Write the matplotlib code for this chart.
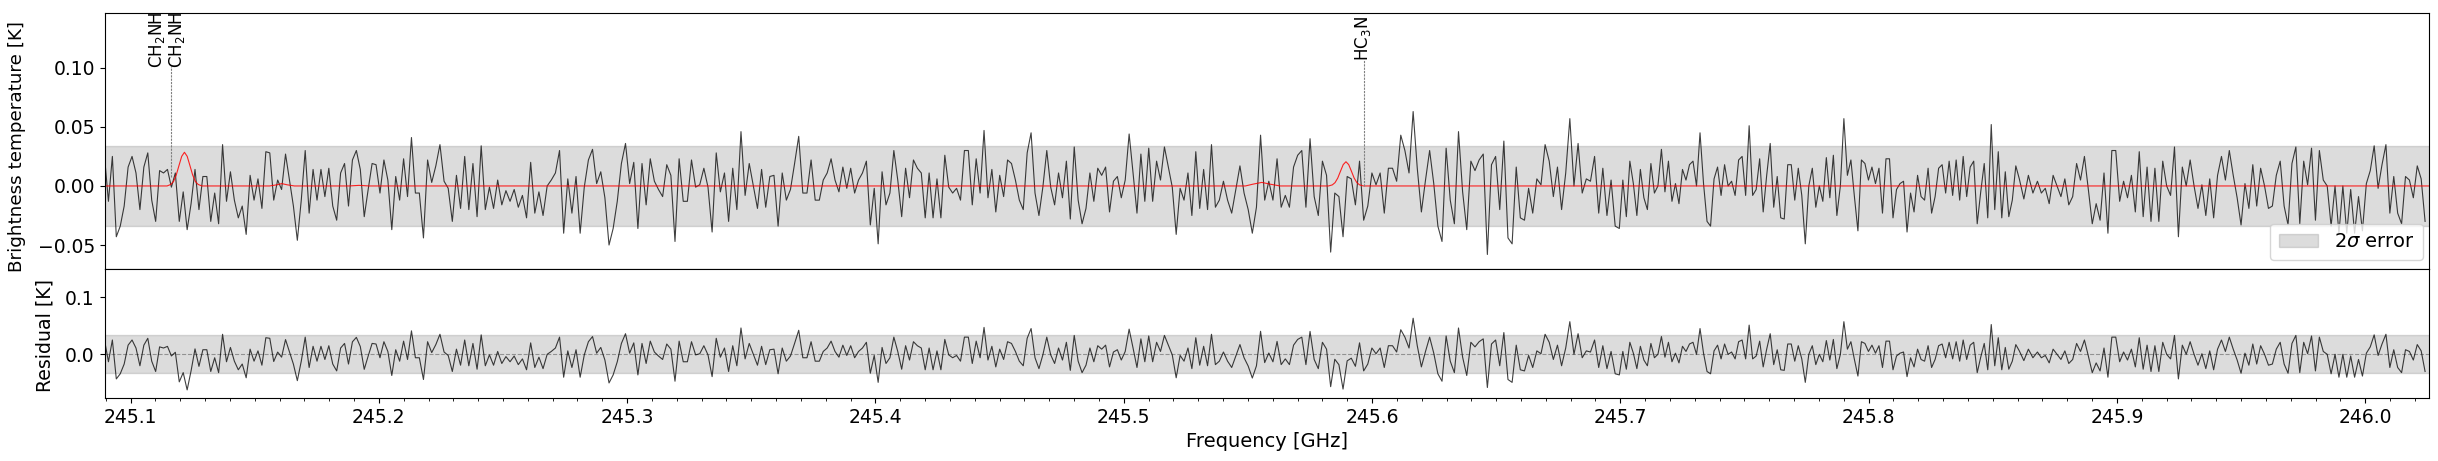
import numpy as np
import matplotlib
matplotlib.use("Agg")
import matplotlib.pyplot as plt
from matplotlib.ticker import MultipleLocator

# Spectrum, in mK, one list per stretch of the band
seg_edges = [245.0895, 245.2163, 245.3774, 245.5385, 245.6996, 245.8607, 245.8680, 246.0257]
seg_a = [25,-13,25,-43,-34,-17,16,25,11,-20,16,28,-12,-30,13,11,14,-1,11,-30,-5,-37,-15,14,-20,8,8,-30,-6,-32,
         35,-13,12,-12,-27,-17,-41,9,-12,6,-19,29,28,-12,5,-3,27,5,-17,-46,-12,30,-23,14,-12,14,-9,15,-17,-29,
         11,19,-17,22,30,14,-26,-3,19,18,-6,22,5,-37,8,-12,23,-9,41,-6]
seg_b = [-6,-44,22,3,17,35,4,-2,-30,9,-19,25,-20,19,-26,34,-20,-1,-19,5,-16,-4,-13,-3,-18,-8,-27,20,-23,-5,
         -25,0,5,11,30,-40,6,-23,8,-40,-1,22,31,2,12,-10,-50,-36,-13,19,36,2,20,-36,19,-16,23,4,-3,-9,
         18,9,-47,23,-13,-13,22,-1,1,15,-1,-39,28,-5,11,-30,15,-20,46,-8,19,0,-19,14,-18,8,9,-34,11,-12,
         -3,19,42,-6,-6,22,-12]
seg_c = [-12,5,11,23,5,-5,16,-2,15,-6,5,11,21,-33,-2,-49,12,-16,-6,30,5,-26,15,-10,22,15,11,-27,11,-27,
         6,-27,26,-1,-6,-2,-12,30,30,-16,23,-6,47,-10,14,-22,9,-9,22,19,5,-12,-20,28,45,-6,-25,-1,30,-1,
         -16,11,-10,21,-28,33,-12,-32,-19,11,-13,15,9,16,-22,4,8,-10,5,44,11,-23,27,-13,32,-13,21,5,33,16,
         -1,-41,-2,-12,11,-25,29,-19,14,-20,35,-18]
seg_d = [-12,4,-12,-23,-3,17,-6,-20,-40,-18,43,-12,4,-12,23,-18,-8,-18,16,26,30,-18,40,-9,-25,21,9,-56,-6,-9,
         -43,8,6,-16,21,-29,-17,11,1,11,-23,15,15,4,43,30,11,63,15,-22,5,30,2,-34,-47,32,-12,-32,46,-5,
         -37,21,13,22,27,-58,18,25,-20,38,-44,-49,16,-27,-29,-2,-23,6,1,35,21,-9,16,-20,11,57,0,36,-6,6,
         4,25,-23,15,-25,5,-34]
seg_e = [-36,5,-26,21,2,-25,14,-10,-20,19,-6,0,31,-5,21,-13,2,-15,14,5,18,21,0,45,2,-30,-34,6,16,-8,
         18,0,4,-8,22,25,-8,51,-8,-3,23,-22,9,36,-18,8,-27,-28,18,18,-12,15,-8,-49,0,15,-18,0,-13,24,
         -10,26,-25,0,57,9,22,-9,-38,22,19,5,16,2,15,-23,23,23,-27,-3,2,4,-39,-6,-22,9,-9,-12,15,-23,
         -9,15,18,-6,21,-8,22,-12,25,-9,16,21,-32,-5,19,-27,52,-20,29,-27,12,-26,-12,17]
seg_f = [6,-11,9,-6]
seg_g = [4,-6,-2,-15,9,0,-9,6,-16,-9,19,5,25,-3,-32,-15,-29,11,-40,30,30,-13,4,-10,9,-22,29,-26,16,-30,
         15,-30,21,0,-8,33,-43,16,0,22,0,-19,1,-25,6,-27,9,25,5,30,9,-10,-33,2,-19,18,-17,15,0,-19,
         -17,9,21,-17,-33,19,33,-32,21,1,32,-29,30,5,0,-34,0,-40,0,-40,-3,-40,-9,-38,2,13,34,-2,18,35,
         -23,8,-23,-32,8,5,-10,17,6,-30]
segments = [seg_a, seg_b, seg_c, seg_d, seg_e, seg_f, seg_g]

# Fitted model (red curve): frequency [GHz] and temperature [K]
model_freq = [245.0895,245.1147,245.1162,245.1173,245.1184,245.1195,245.1206,245.1217,245.1228,245.1239,245.1250,
              245.1261,245.1272,245.1287,245.1560,245.1590,245.1609,245.1630,245.1660,245.1880,245.1920,245.1960,
              245.5490,245.5520,245.5556,245.5590,245.5630,245.5825,245.5840,245.5851,245.5862,245.5873,245.5884,
              245.5895,245.5906,245.5917,245.5928,245.5939,245.5950,245.5965,246.0257]
model_temp = [0,0,.0013,.0038,.0093,.0173,.0251,.0285,.0251,.0173,.0093,
              .0038,.0013,0,0,.0010,.0020,.0010,0,0,.0005,0,
              0,.0015,.0030,.0015,0,0,.0009,.0028,.0067,.0125,.0181,
              .0205,.0181,.0125,.0067,.0028,.0009,0,0]

band = 0.0335
line_freqs = [245.1161, 245.5967]
line_tops = [0.1017, 0.1068]
line_bottoms = [0.008, 0.0]
labels = [(245.1108, 0.0995, r"CH$_2$NH"), (245.1185, 0.0995, r"CH$_2$NH"), (245.5965, 0.1055, r"HC$_3$N")]

freq = np.concatenate([np.linspace(seg_edges[i], seg_edges[i + 1], len(s), endpoint=False)
                       for i, s in enumerate(segments)])
obs = np.concatenate(segments) / 1000.0
resid = obs - np.interp(freq, model_freq, model_temp)

W, H = 2438, 461
fig = plt.figure(figsize=(W / 100, H / 100), dpi=100)
L, R = 104.5 / W, 2429 / W
ax1 = fig.add_axes([L, 1 - 269 / H, R - L, (269 - 13.5) / H])
ax2 = fig.add_axes([L, 1 - 398 / H, R - L, (398 - 269) / H], sharex=ax1)

fs = 14
ax1.fill_between([245.0, 246.1], -band, band, color="gray", alpha=0.27, label=r"2$\sigma$ error")
ax1.plot(freq, obs, color="k", lw=0.8, alpha=0.75)
ax1.plot(model_freq, model_temp, color="red", lw=0.8, alpha=0.85)
for f, t, b in zip(line_freqs, line_tops, line_bottoms):
    ax1.plot([f, f], [b, t], color="gray", lw=0.8, ls=(0, (2, 1)))
for f, y, s in labels:
    ax1.text(f, y, s, rotation=90, ha="center", va="bottom", fontsize=12, clip_on=False)
ax1.set_ylim(-0.0703, 0.146)
ax1.set_ylabel("Brightness temperature [K]", fontsize=13.2)
ax1.yaxis.set_major_locator(MultipleLocator(0.05))
ax1.tick_params(axis="x", which="both", bottom=False, labelbottom=False)
ax1.tick_params(axis="y", labelsize=13.5)
ax1.legend(loc="lower right", fontsize=fs, bbox_to_anchor=(0.9975, 0.035), borderaxespad=0, borderpad=0.45)

ax2.fill_between([245.0, 246.1], -band, band, color="gray", alpha=0.27)
ax2.axhline(0, color="gray", lw=0.8, ls="--", alpha=0.8)
ax2.plot(freq, resid, color="k", lw=0.8, alpha=0.75)
ax2.set_ylim(-0.0763, 0.149)
ax2.set_ylabel("Residual [K]", fontsize=13.6)
ax2.yaxis.set_major_locator(MultipleLocator(0.1))
ax2.set_xlim(245.0895, 246.0257)
ax2.xaxis.set_major_locator(MultipleLocator(0.1))
ax2.xaxis.set_minor_locator(MultipleLocator(0.01))
ax2.xaxis.set_major_formatter(matplotlib.ticker.FormatStrFormatter("%.1f"))
ax2.tick_params(labelsize=13.5)
ax2.set_xlabel("Frequency [GHz]", fontsize=fs)
ax1.yaxis.set_label_coords((26 - 104.5) / (2429 - 104.5), 0.48)
ax2.yaxis.set_label_coords((54.3 - 104.5) / (2429 - 104.5), 0.485)
fig.savefig("out.png", dpi=100)
